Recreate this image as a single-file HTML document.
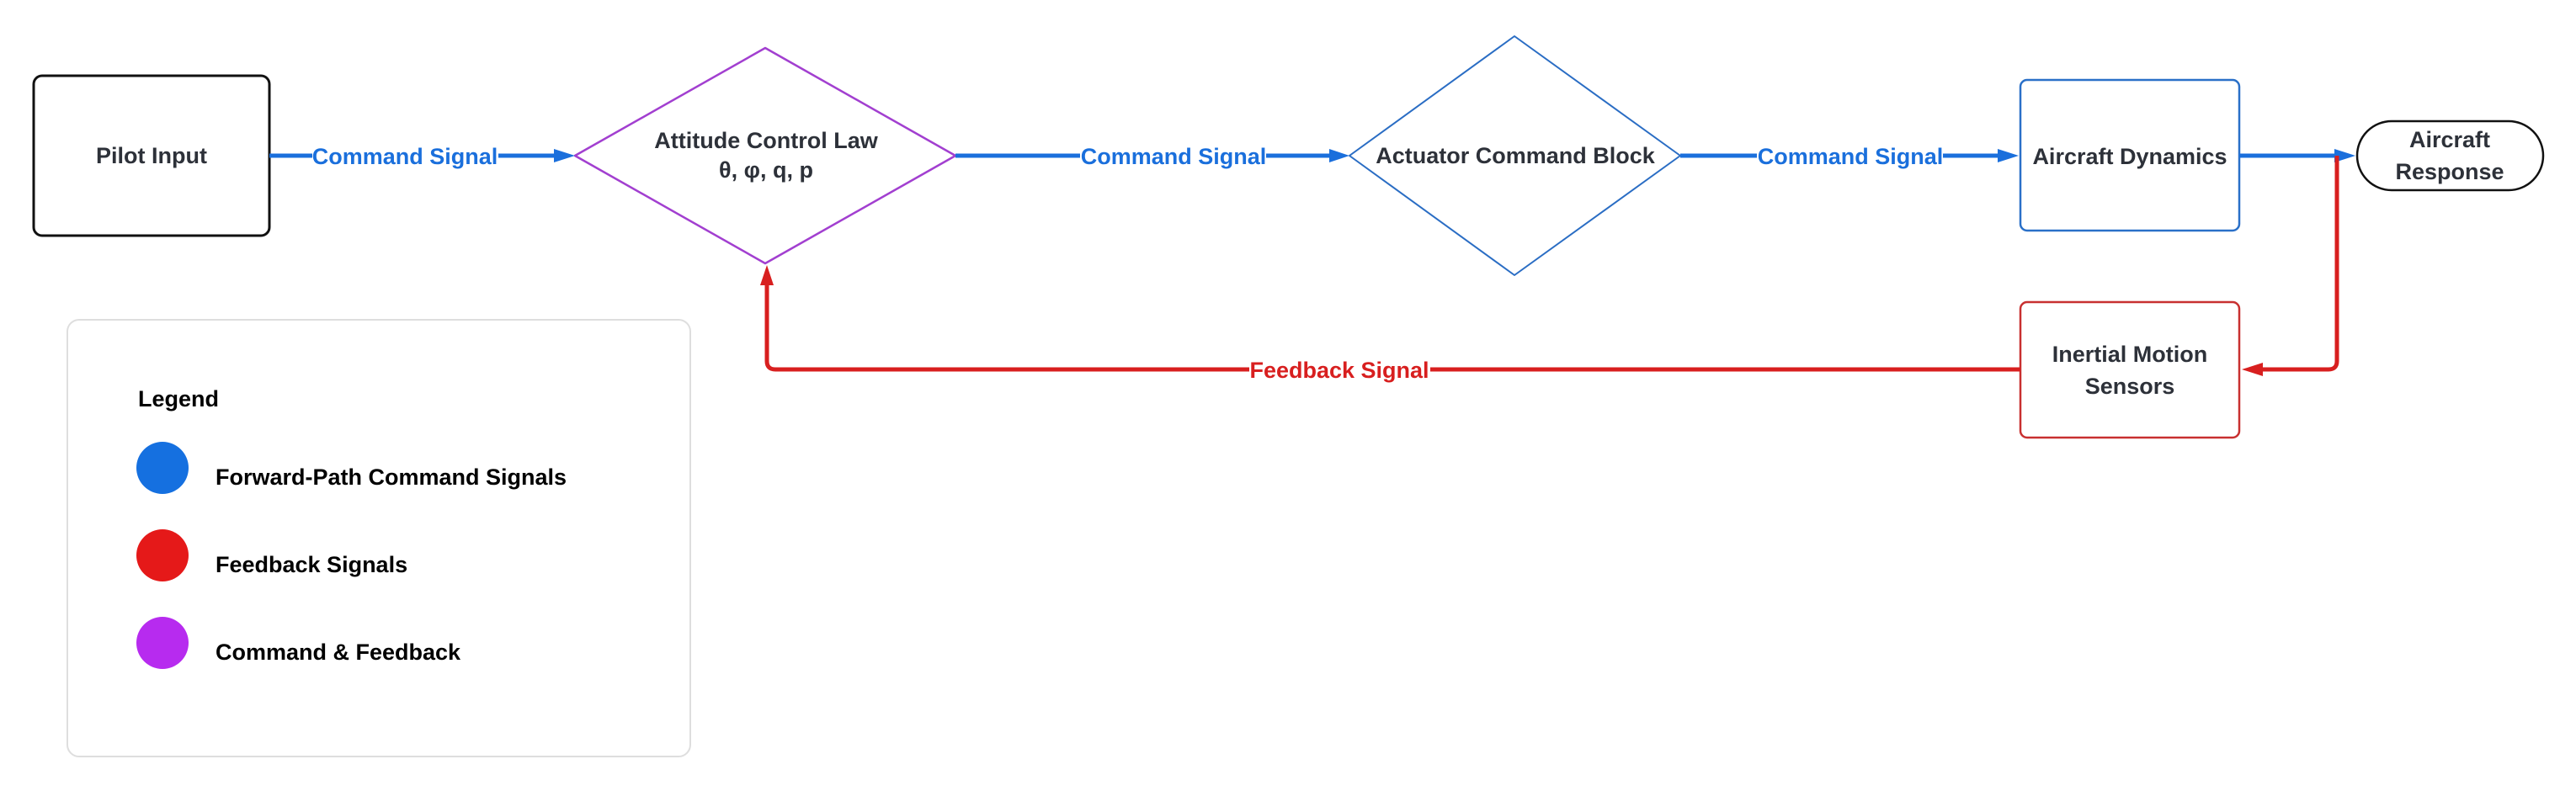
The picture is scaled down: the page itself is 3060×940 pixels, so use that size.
<!DOCTYPE html>
<html>
<head>
<meta charset="utf-8">
<style>
  html, body { margin: 0; padding: 0; background: #ffffff; }
  body { width: 3060px; height: 940px; overflow: hidden; }
  svg { display: block; }
  text { font-family: "Liberation Sans", "DejaVu Sans", sans-serif; font-weight: bold; font-size: 27px; }
  .node { fill: #2d3139; }
  .blue { fill: #1a6fdc; }
  .red { fill: #d81f1f; }
  .leg { fill: #000000; }
</style>
</head>
<body>
<svg width="3060" height="940" viewBox="0 0 3060 940" xmlns="http://www.w3.org/2000/svg">
  <rect x="0" y="0" width="3060" height="940" fill="#ffffff"/>

  <!-- Pilot Input -->
  <rect x="40" y="90" width="280" height="190" rx="10" ry="10" fill="#fff" stroke="#111" stroke-width="3"/>
  <text class="node" x="180" y="194" text-anchor="middle">Pilot Input</text>

  <!-- Attitude Control Law diamond -->
  <polygon points="683,185 909,57 1135,185 909,313" fill="#fff" stroke="#a23fd0" stroke-width="2.5" stroke-linejoin="round"/>
  <text class="node" x="910" y="176" text-anchor="middle">Attitude Control Law</text>
  <text class="node" x="910" y="211" text-anchor="middle">θ, φ, q, p</text>

  <!-- Actuator Command Block diamond -->
  <polygon points="1603,185 1799,43 1996,185 1799,327" fill="#fff" stroke="#2a6dc4" stroke-width="2" stroke-linejoin="round"/>
  <text class="node" x="1800" y="194" text-anchor="middle">Actuator Command Block</text>

  <!-- Aircraft Dynamics -->
  <rect x="2400" y="95" width="260" height="179" rx="8" ry="8" fill="#fff" stroke="#2a70c8" stroke-width="2.5"/>
  <text class="node" x="2530" y="195" text-anchor="middle">Aircraft Dynamics</text>

  <!-- Aircraft Response pill -->
  <rect x="2800" y="144" width="221" height="82" rx="41" ry="41" fill="#fff" stroke="#111" stroke-width="2.5"/>
  <text class="node" x="2910" y="175" text-anchor="middle">Aircraft</text>
  <text class="node" x="2910" y="213" text-anchor="middle">Response</text>

  <!-- Inertial Motion Sensors -->
  <rect x="2400" y="359" width="260" height="161" rx="8" ry="8" fill="#fff" stroke="#c83030" stroke-width="2.5"/>
  <text class="node" x="2530" y="430" text-anchor="middle">Inertial Motion</text>
  <text class="node" x="2530" y="468" text-anchor="middle">Sensors</text>

  <!-- Forward connectors -->
  <g stroke="#1a6fdc" stroke-width="5" fill="none">
    <line x1="320" y1="185" x2="662" y2="185"/>
    <line x1="1135" y1="185" x2="1582" y2="185"/>
    <line x1="1996" y1="185" x2="2377" y2="185"/>
    <line x1="2660" y1="185" x2="2777" y2="185"/>
  </g>
  <g fill="#1a6fdc">
    <polygon points="658,177 683,185 658,193"/>
    <polygon points="1579,177 1603,185 1579,193"/>
    <polygon points="2373,177 2398,185 2373,193"/>
    <polygon points="2773,177 2798,185 2773,193"/>
  </g>

  <!-- Forward labels -->
  <rect x="371" y="168" width="221" height="34" fill="#fff"/>
  <text class="blue" x="481" y="195" text-anchor="middle">Command Signal</text>
  <rect x="1283" y="168" width="221" height="34" fill="#fff"/>
  <text class="blue" x="1394" y="195" text-anchor="middle">Command Signal</text>
  <rect x="2087" y="168" width="221" height="34" fill="#fff"/>
  <text class="blue" x="2198" y="195" text-anchor="middle">Command Signal</text>

  <!-- Feedback connectors -->
  <path d="M 2776 185 V 429 Q 2776 439 2766 439 H 2686" stroke="#d81f1f" stroke-width="5" fill="none"/>
  <polygon points="2688,431 2663,439 2688,447" fill="#d81f1f"/>
  <path d="M 2400 439 H 921 Q 911 439 911 429 V 336" stroke="#d81f1f" stroke-width="5" fill="none"/>
  <polygon points="903,339 911,315 919,339" fill="#d81f1f"/>

  <!-- Feedback label -->
  <rect x="1484" y="422" width="215" height="34" fill="#fff"/>
  <text class="red" x="1591" y="449" text-anchor="middle">Feedback Signal</text>

  <!-- Legend -->
  <rect x="80" y="380" width="740" height="519" rx="14" ry="14" fill="#fff" stroke="#dedede" stroke-width="2"/>
  <text class="leg" x="164" y="483">Legend</text>
  <circle cx="193" cy="556" r="31" fill="#1570e0"/>
  <text class="leg" x="256" y="576">Forward-Path Command Signals</text>
  <circle cx="193" cy="660" r="31" fill="#e51919"/>
  <text class="leg" x="256" y="680">Feedback Signals</text>
  <circle cx="193" cy="764" r="31" fill="#b72bef"/>
  <text class="leg" x="256" y="784">Command &amp; Feedback</text>
</svg>
</body>
</html>
